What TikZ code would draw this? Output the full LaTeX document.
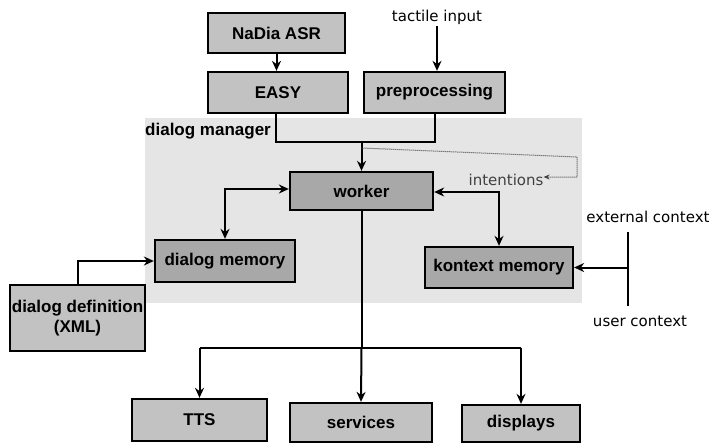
\documentclass[tikz,border=0pt]{standalone}
\usepackage{fontspec}
\setmainfont{DejaVu Sans}
\newfontfamily\bfam{Liberation Sans}
\usetikzlibrary{arrows.meta}
\definecolor{boxgray}{gray}{0.76}
\definecolor{innergray}{gray}{0.66}
\definecolor{regiongray}{gray}{0.9}
\definecolor{intgray}{gray}{0.25}
\begin{document}
\begin{tikzpicture}[x=1pt,y=-1pt,
  box/.style={draw=black, line width=2.3pt, fill=boxgray, inner sep=2pt,
    font=\bfam\bfseries\fontsize{17}{20}\selectfont},
  inbox/.style={box, fill=innergray},
  lbl/.style={font=\fontsize{15}{18}\selectfont, inner sep=0pt},
  conn/.style={line width=2pt, -{Stealth[length=10pt,width=9pt]}},
  bconn/.style={line width=2pt, {Stealth[length=10pt,width=9pt]}-{Stealth[length=10pt,width=9pt]}},
  plain/.style={line width=2pt},
  thin/.style={line width=1pt, draw=intgray, densely dotted, -{Stealth[length=6pt,width=5pt]}}
]
\useasboundingbox (0,0) rectangle (714,444);
% shaded dialog manager region
\fill[regiongray] (145,118) rectangle (582,303);

% boxes
\node[box, minimum width=137pt, minimum height=40pt] (nadia) at (276.5,33) {NaDia ASR};
\node[box, minimum width=140pt, minimum height=41pt] (easy) at (278,92.5) {EASY};
\node[box, minimum width=141pt, minimum height=41pt] (pre) at (434.5,92.5) {preprocessing};
\node[inbox, minimum width=143pt, minimum height=38pt] (worker) at (361.5,191) {worker};
\node[inbox, minimum width=140pt, minimum height=42pt] (dmem) at (225,261) {dialog memory};
\node[inbox, minimum width=148pt, minimum height=41pt] (kmem) at (499,267.5) {kontext memory};
\node[box, minimum width=135pt, minimum height=66pt, align=center] (ddef) at (77.5,318) {dialog definition\\(XML)};
\node[box, minimum width=135pt, minimum height=42pt] (tts) at (199.5,420) {TTS};
\node[box, minimum width=142pt, minimum height=39pt] (serv) at (361,422.5) {services};
\node[box, minimum width=118pt, minimum height=37pt] (disp) at (521,423.5) {displays};

% labels
\node[lbl] (tactile) at (437,17) {tactile input};
\node[lbl, font=\bfam\bfseries\fontsize{17}{20}\selectfont, anchor=west] (dm) at (145,131) {dialog manager};
\node[lbl, text=intgray] (intent) at (506,180) {intentions};
\node[lbl] (ext) at (648,217) {external context};
\node[lbl] (usr) at (640,321) {user context};

% coordinates
\coordinate (merge) at (361.5,142);
\coordinate (ij) at (361.5,148);
\coordinate (ctxtop) at (628,232);
\coordinate (ctxbot) at (628,306);
\coordinate (ctxmid) at (628,267.5);
\coordinate (branch) at (361.5,348);

% top connectors
\draw[conn] (nadia.south) -- (easy.north -| nadia.south);
\draw[conn] (tactile.south |- 0,26) -- (pre.north -| tactile.south);
\draw[plain] (easy.south -| 276,0) |- (merge) -| (pre.south -| 435,0);
\draw[conn] (merge) -- (worker.north);

% intentions
\draw[thin] (ij) -- (577,157) -- (577,177) -- (intent.east |- 0,177);

% worker <-> memories
\draw[bconn] (worker.west |- 0,189) -| (dmem.north);
\draw[bconn] (worker.east |- 0,192) -| (kmem.north);
\draw[conn] (ddef.north) |- (dmem.west);

% context
\draw[plain] (ctxtop) -- (ctxbot);
\draw[conn] (ctxmid) -- (kmem.east);

% outputs
\draw[plain] (worker.south) -- (branch);
\draw[plain] (tts.north |- branch) -- (disp.north |- branch);
\draw[conn] (branch) -- (serv.north);
\draw[conn] (tts.north |- branch) -- (tts.north);
\draw[conn] (disp.north |- branch) -- (disp.north);
\end{tikzpicture}
\end{document}
